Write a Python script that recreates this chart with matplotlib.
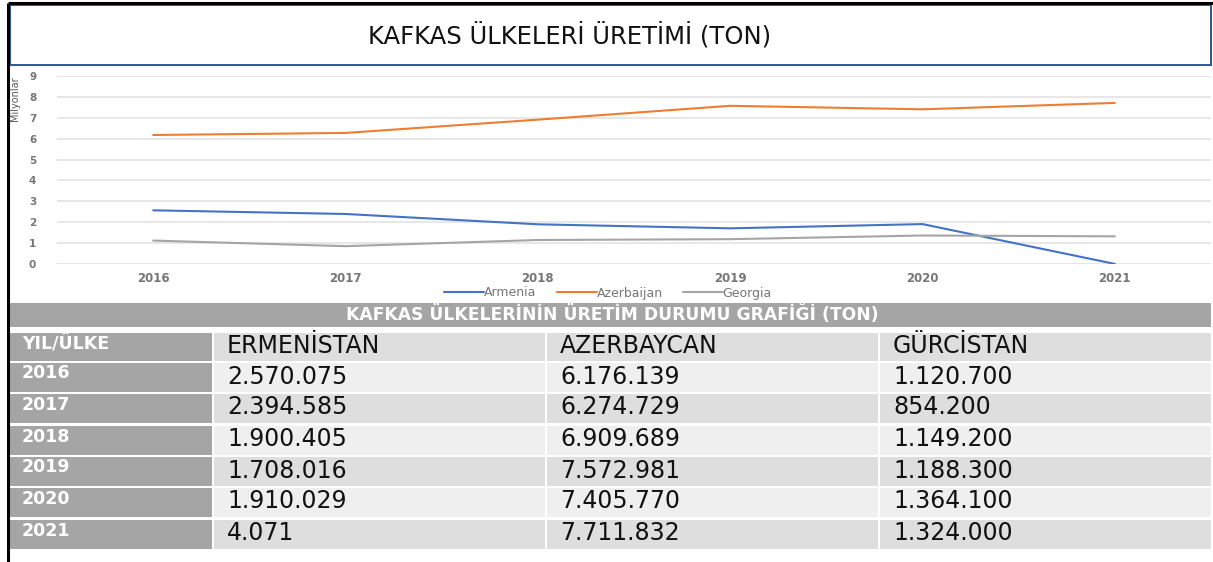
import matplotlib
matplotlib.use("Agg")
import matplotlib.pyplot as plt
from matplotlib.patches import Rectangle

years = ["2016", "2017", "2018", "2019", "2020", "2021"]
armenia = [2570075, 2394585, 1900405, 1708016, 1910029, 4071]
azerbaijan = [6176139, 6274729, 6909689, 7572981, 7405770, 7711832]
georgia = [1120700, 854200, 1149200, 1188300, 1364100, 1324000]
series_names = ["Armenia", "Azerbaijan", "Georgia"]
table_cols = ["YIL/ÜLKE", "ERMENİSTAN", "AZERBAYCAN", "GÜRCİSTAN"]
title = "KAFKAS ÜLKELERİ ÜRETİMİ (TON)"
table_title = "KAFKAS ÜLKELERİNİN ÜRETİM DURUMU GRAFİĞİ (TON)"
y_ticks = list(range(0, 10))

colors = ["#4472C4", "#ED7D31", "#A5A5A5"]
FONT = ["DejaVu Sans"]

W, H = 1213, 562
fig = plt.figure(figsize=(W / 100, H / 100), dpi=100)

# overlay axes in pixel coordinates for frames and the table
bg = fig.add_axes([0, 0, 1, 1])
bg.set_xlim(0, W)
bg.set_ylim(H, 0)
bg.axis("off")

# outer black frame (top and left)
bg.plot([8, 8], [3, H], color="black", lw=2.2, solid_capstyle="butt")
bg.plot([8, W], [3, 3], color="black", lw=2.2, solid_capstyle="butt")

# title box
bg.add_patch(Rectangle((10, 5), 1201, 60, facecolor="white",
                       edgecolor="#2F5597", lw=1.4))
bg.text(570, 35, title, ha="center", va="center", fontsize=17.5,
        family=FONT, color="#111111")

# line chart
def px_to_fig(x0, y0, x1, y1):
    return [x0 / W, 1 - y1 / H, (x1 - x0) / W, (y1 - y0) / H]

ax = fig.add_axes(px_to_fig(57, 76, 1211, 264))
x = list(range(len(years)))
for vals, name, c in zip([armenia, azerbaijan, georgia], series_names, colors):
    ax.plot(x, [v / 1e6 for v in vals], color=c, lw=1.5, label=name,
            solid_capstyle="round")
ax.set_xlim(-0.5, len(years) - 0.5)
ax.set_ylim(0, 9)
ax.set_yticks(y_ticks)
ax.set_xticks(x)
ax.set_xticklabels(years)
ax.grid(axis="y", color="#E3E3E3", lw=1.2)
ax.set_axisbelow(True)
for s in ax.spines.values():
    s.set_visible(False)
ax.tick_params(length=0, colors="#767676")
ax.tick_params(axis="y", pad=15, labelsize=7.5)
ax.tick_params(axis="x", pad=6, labelsize=8.5)
for lab in ax.get_xticklabels() + ax.get_yticklabels():
    lab.set_fontweight("bold")
    lab.set_family(FONT)
fig.text(15 / W, 1 - 99 / H, "Milyonlar", rotation=90, ha="center",
         va="center", fontsize=7, color="#595959", family=FONT)
leg = ax.legend(loc="center", bbox_to_anchor=(608 / W, 1 - 293 / H),
                bbox_transform=fig.transFigure, ncol=3, frameon=False,
                fontsize=9, handlelength=3.2, handletextpad=0.0,
                columnspacing=1.6, borderpad=0)
for t in leg.get_texts():
    t.set_color("#767676")
    t.set_family(FONT)

# table
bg.add_patch(Rectangle((10, 303), 1201, 24, facecolor="#A5A5A5", lw=0))
bg.text(612, 314, table_title, ha="center", va="center", fontsize=12.3,
        fontweight="bold", color="white", family=FONT)

col_x = [10, 214, 547, 880]
col_r = [212, 545, 878, 1211]
row_y = [333, 363, 394, 426, 457, 488, 520]
row_b = [361, 392, 423, 455, 486, 517, 549]


def fmt(v):
    return f"{v:,}".replace(",", ".")


rows = [table_cols] + [[yr, fmt(a), fmt(b), fmt(g)]
                       for yr, a, b, g in zip(years, armenia, azerbaijan, georgia)]
for i, row in enumerate(rows):
    y0, y1 = row_y[i], row_b[i]
    light = "#DEDEDE" if i % 2 == 0 else "#EFEFEF"
    for j, txt in enumerate(row):
        x0, x1 = col_x[j], col_r[j]
        if j == 0:
            bg.add_patch(Rectangle((x0, y0), x1 - x0, y1 - y0,
                                   facecolor="#A5A5A5", lw=0))
            bg.text(x0 + 12, (y0 + y1) / 2 - 4, txt, ha="left", va="center",
                    fontsize=12.5, fontweight="bold", color="white", family=FONT)
        else:
            bg.add_patch(Rectangle((x0, y0), x1 - x0, y1 - y0,
                                   facecolor=light, lw=0))
            bg.text(x0 + 13, (y0 + y1) / 2 - 1, txt, ha="left", va="center",
                    fontsize=17, color="#111111", family=FONT)

fig.savefig("out.png", dpi=100)
